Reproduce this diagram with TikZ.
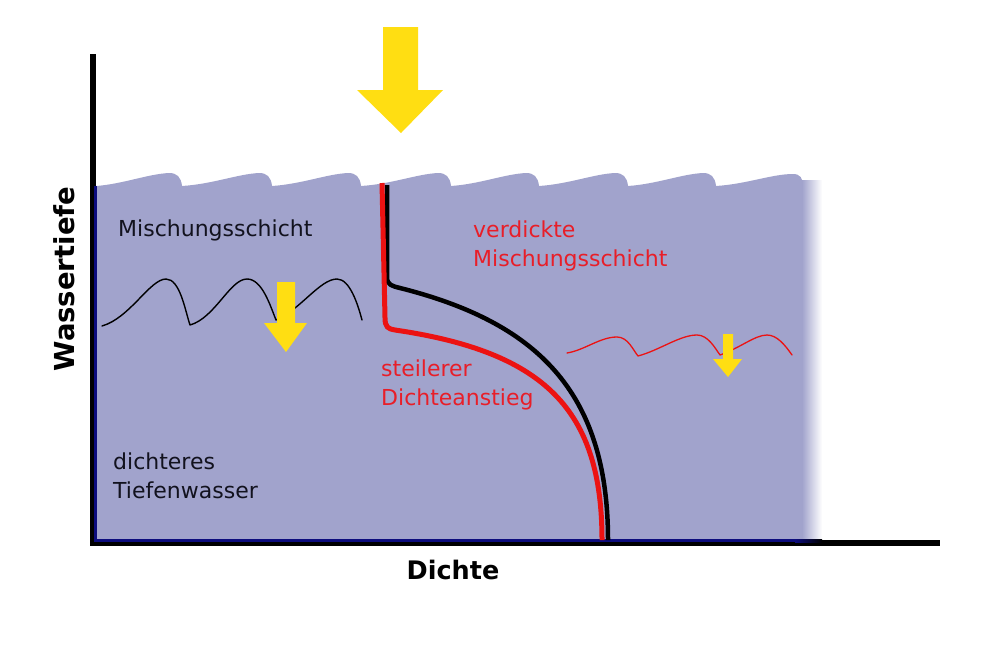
\documentclass[tikz,border=0pt]{standalone}
\usepackage{fontspec}
\setmainfont{DejaVu Sans}
\definecolor{water}{RGB}{161,163,204}
\definecolor{navy}{RGB}{12,12,125}
\definecolor{sun}{RGB}{255,222,18}
\definecolor{redline}{RGB}{236,18,18}
\definecolor{redtext}{RGB}{232,30,40}
\definecolor{darktext}{RGB}{18,18,30}
\tikzset{
  bodytext/.style={font=\fontsize{22}{28.5}\selectfont, inner sep=0pt, align=left, anchor=base west},
  axislabel/.style={font=\bfseries\fontsize{25.5}{30}\selectfont, inner sep=0pt, text=black},
  axisline/.style={line width=6pt, black},
  sunarrow/.style={fill=sun, draw=none},
  profile/.style={line width=4.5pt, line join=round},
  wave/.style={line width=1.4pt, line cap=round, line join=round}
}
\begin{document}
\begin{tikzpicture}[x=1pt,y=-1pt]
\useasboundingbox (0,0) rectangle (1000,646);
\fill[white] (0,0) rectangle (1000,646);

% water body with scalloped surface
\fill[water] (96,186)
  \foreach \a in {93,183,272,362,450,539,627} {
    .. controls ({\a+30},184) and ({\a+55},174) .. ({\a+76},173)
    .. controls ({\a+84},173) and ({\a+88},177) .. ({\a+89},186)
  }
  .. controls (747,184) and (772,174) .. (793,174)
  .. controls (800,174) and (803,178) .. (803,186)
  -- (803,541) -- (96,541) -- cycle;
\shade[left color=water, right color=white] (802,180) rectangle (822,541);

% axes
\draw[axisline] (93,54) -- (93,546);
\draw[axisline] (90,543) -- (940,543);
\draw[navy, line width=3pt] (95.5,186) -- (95.5,541.5);
\draw[navy, line width=3pt] (95,540.5) -- (795,540.5);
\shade[left color=navy, right color=black] (795,539) rectangle (822,542);

% waves
\draw[wave, black] (102,326) .. controls (130,318) and (150,279) .. (166,279)
  .. controls (180,279) and (185,310) .. (190,325)
  .. controls (215,318) and (230,279) .. (247,279)
  .. controls (262,279) and (270,305) .. (276,320)
  .. controls (300,310) and (320,279) .. (337,279)
  .. controls (350,279) and (358,305) .. (362,320);
\draw[wave, redline, line width=1.3pt] (567,353) .. controls (585,350) and (600,337) .. (617,337)
  .. controls (628,337) and (633,350) .. (638,356)
  .. controls (660,350) and (680,335) .. (697,335)
  .. controls (708,335) and (715,348) .. (720,355)
  .. controls (740,348) and (755,335) .. (767,335)
  .. controls (777,335) and (785,345) .. (792,355);

% density profiles
\draw[profile, black] (387,185) -- (387,277)
  .. controls (387,285) and (392,286) .. (400,288)
  .. controls (535,322) and (608,390) .. (608,540);
\draw[profile, redline, line width=5pt] (382,183) -- (385,318)
  .. controls (385,327) and (388,329) .. (395,330)
  .. controls (545,352) and (602,410) .. (602,540);

% yellow arrows
\fill[sunarrow] (383,27) -- (418,27) -- (418,90) -- (443,90) -- (401,133) -- (357,90) -- (383,90) -- cycle;
\fill[sunarrow] (277,282) -- (295,282) -- (295,323) -- (307,323) -- (286,352) -- (264,323) -- (277,323) -- cycle;
\fill[sunarrow] (723,334) -- (733,334) -- (733,359) -- (742,359) -- (728,377) -- (713,359) -- (723,359) -- cycle;

% labels (base anchor is at the last line)
\node[bodytext, text=darktext] (mix) at (118,236) {Mischungsschicht};
\node[bodytext, text=redtext] (thick) at (473,266) {verdickte\\Mischungsschicht};
\node[bodytext, text=redtext] (steep) at (381,405) {steilerer\\Dichteanstieg};
\node[bodytext, text=darktext] (deep) at (113,498) {dichteres\\Tiefenwasser};
\node[axislabel, anchor=base] (xlab) at (453,579) {Dichte};
\node[axislabel, font=\bfseries\fontsize{27.5}{32}\selectfont, rotate=90] (ylab) at (64,279) {Wassertiefe};
\end{tikzpicture}
\end{document}
